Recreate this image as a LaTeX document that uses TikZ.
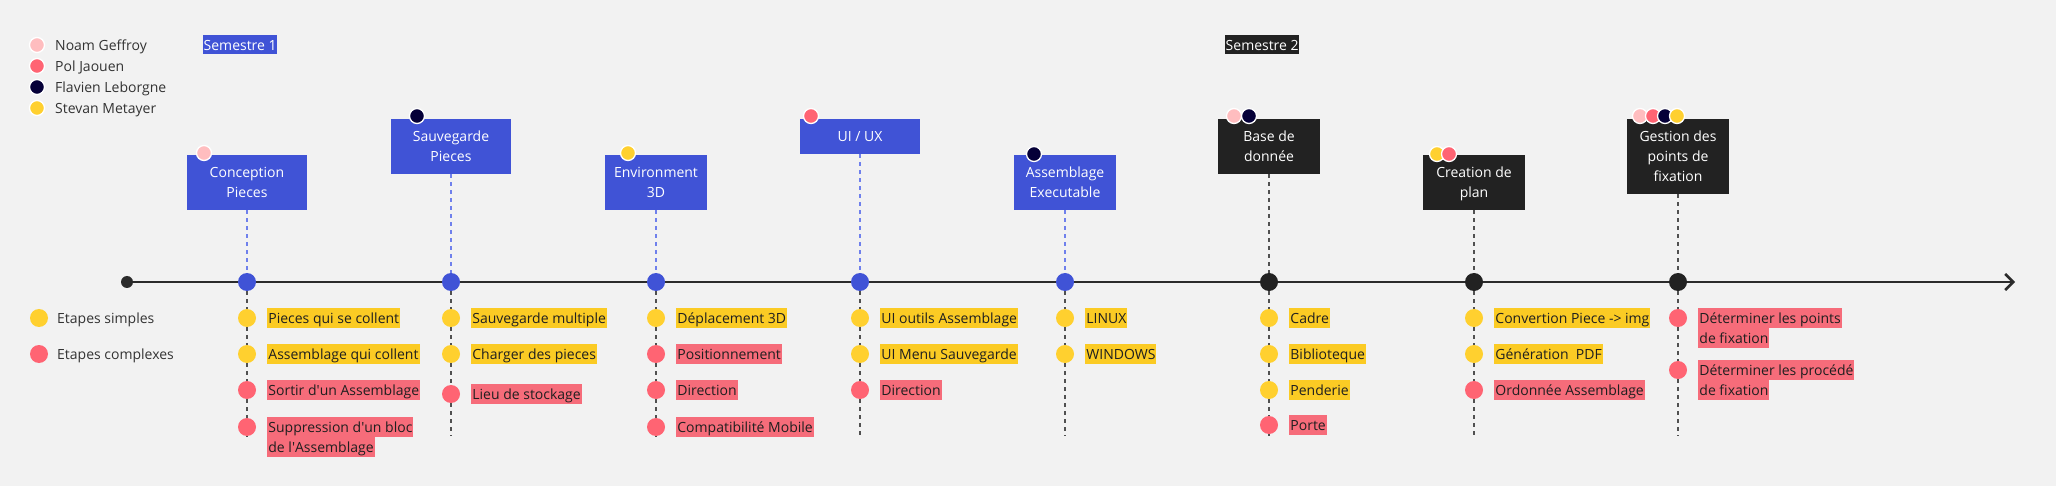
\documentclass[tikz,border=0pt]{standalone}
\usepackage{fontspec}
\setmainfont{Open Sans}
\usetikzlibrary{arrows.meta,positioning}

\definecolor{canvas}{HTML}{F2F2F2}
\definecolor{phaseblue}{HTML}{4053D6}
\definecolor{phasedark}{HTML}{222222}
\definecolor{linkblue}{HTML}{6F80EC}
\definecolor{linkgray}{HTML}{505050}
\definecolor{axisgray}{HTML}{2B2B2B}
\definecolor{noam}{HTML}{FFBDBF}
\definecolor{pol}{HTML}{FF6473}
\definecolor{flavien}{HTML}{050038}
\definecolor{stevan}{HTML}{FFD02F}
\definecolor{easyfill}{HTML}{FBCB24}
\definecolor{hardfill}{HTML}{F66C7A}
\definecolor{inkdark}{HTML}{1F1F1F}
\definecolor{inkgray}{HTML}{333333}

\newcommand{\fs}{\fontsize{14}{20}\selectfont}
\newcommand{\stack}[1]{\begin{tabular}[t]{@{}c@{}}#1\end{tabular}}

\begin{document}
\begin{tikzpicture}[
    x=1pt, y=-1pt,
    >={Straight Barb[length=8pt,width=16pt]},
    axis/.style={->, line width=2.6pt, draw=axisgray},
    link/.style={dash pattern=on 4pt off 4pt, line width=1.4pt, draw=linkgray},
    bluelink/.style={link, draw=linkblue},
    phase/.style={minimum width=102pt, inner sep=0pt, font=\fs, text=white,
      text height=23pt, text depth=32pt},
    phase1/.style={phase, fill=phaseblue},
    phase2/.style={phase, fill=phasedark},
    avatar/.style={circle, minimum size=15pt, inner sep=0pt, draw=white,
      line width=1.3pt},
    stepdot/.style={circle, minimum size=18pt, inner sep=0pt},
    mdot1/.style={stepdot, fill=phaseblue},
    mdot2/.style={stepdot, fill=phasedark},
    easydot/.style={stepdot, fill=stevan},
    harddot/.style={stepdot, fill=pol},
    tag/.style={font=\fs, text=inkdark, inner xsep=1pt, inner ysep=3pt,
      text height=12.5pt, text depth=1.5pt},
    easy/.style={tag, fill=easyfill},
    hard/.style={tag, fill=hardfill},
    legend/.style={font=\fs, text=inkgray, anchor=west, inner sep=0pt,
      text height=12.5pt, text depth=1.5pt},
    semester/.style={font=\fs, text=white, anchor=north west, inner xsep=0.5pt,
      inner ysep=2.5pt, text height=12.5pt, text depth=1.5pt}
  ]
  \fill[canvas] (0,0) rectangle (2056,486);
  \useasboundingbox (0,0) rectangle (2056,486);

  % Legend
  \node[avatar, fill=noam] (lg1) at (37,45) {};
  \node[legend] (lt1) at (55,45) {Noam Geffroy};
  \node[avatar, fill=pol] (lg2) at (37,66) {};
  \node[legend] (lt2) at (55,66) {Pol Jaouen};
  \node[avatar, fill=flavien] (lg3) at (37,87) {};
  \node[legend] (lt3) at (55,87) {Flavien Leborgne};
  \node[avatar, fill=stevan] (lg4) at (37,108) {};
  \node[legend] (lt4) at (55,108) {Stevan Metayer};
  \node[easydot] (lgs) at (39,318) {};
  \node[legend] (lts) at (57,318) {Etapes simples};
  \node[harddot] (lgc) at (39,354) {};
  \node[legend] (ltc) at (57,354) {Etapes complexes};

  % Semestres
  \node[semester, fill=phaseblue] (s1) at (203,35) {Semestre 1};
  \node[semester, fill=phasedark] (s2) at (1225,35) {Semestre 2};

  % Timeline
  \node[circle, fill=axisgray, minimum size=12pt, inner sep=0pt] (t0) at (127,282) {};
  \coordinate (tend) at (2015,282);
  \node[mdot1] (cpm) at (247,282) {};
  \node[mdot1] (spm) at (451,282) {};
  \node[mdot1] (enm) at (656,282) {};
  \node[mdot1] (uxm) at (860,282) {};
  \node[mdot1] (aem) at (1065,282) {};
  \node[mdot2] (bdm) at (1269,282) {};
  \node[mdot2] (crm) at (1474,282) {};
  \node[mdot2] (gfm) at (1678,282) {};
  \draw[axis] (t0) -- (cpm) -- (spm) -- (enm) -- (uxm) -- (aem) -- (bdm)
    -- (crm) -- (gfm) -- (tend);

  % Phases
  \node[phase1, minimum width=120pt] (cp) at (247,182.5) {\stack{Conception\\Pieces}};
  \node[phase1, minimum width=120pt] (sp) at (451,146.5) {\stack{Sauvegarde\\Pieces}};
  \node[phase1] (en) at (656,182.5) {\stack{Environment\\3D}};
  \node[phase1, minimum width=120pt, text depth=12pt] (ux) at (860,136.5) {UI / UX};
  \node[phase1] (ae) at (1065,182.5) {\stack{Assemblage\\Executable}};
  \node[phase2] (bd) at (1269,146.5) {\stack{Base de\\donnée}};
  \node[phase2] (cr) at (1474,182.5) {\stack{Creation de\\plan}};
  \node[phase2, text depth=52pt] (gf) at (1678,156.5) {\stack{Gestion des\\points de\\fixation}};

  % Who works on what
  \node[avatar, fill=noam] (cpa) at (204,153) {};
  \node[avatar, fill=flavien] (spa) at (417,116) {};
  \node[avatar, fill=stevan] (ena) at (628,153) {};
  \node[avatar, fill=pol] (uxa) at (811,116) {};
  \node[avatar, fill=flavien] (aea) at (1034,154) {};
  \node[avatar, fill=noam] (bda1) at (1234,116) {};
  \node[avatar, fill=flavien] (bda2) at (1249,116) {};
  \node[avatar, fill=stevan] (cra1) at (1437,154) {};
  \node[avatar, fill=pol] (cra2) at (1449,154) {};
  \node[avatar, fill=noam] (gfa1) at (1640,116) {};
  \node[avatar, fill=pol] (gfa2) at (1653,116) {};
  \node[avatar, fill=flavien] (gfa3) at (1665,116) {};
  \node[avatar, fill=stevan] (gfa4) at (1677,116) {};

  % Conception Pieces
  \node[easydot] (cp1) at (247,318) {};
  \node[easy, right=11pt of cp1] (cp1t) {Pieces qui se collent};
  \node[easydot] (cp2) at (247,354) {};
  \node[easy, right=11pt of cp2] (cp2t) {Assemblage qui collent};
  \node[harddot] (cp3) at (247,390) {};
  \node[hard, right=11pt of cp3] (cp3t) {Sortir d\textquotesingle un Assemblage};
  \node[harddot] (cp4) at (247,427) {};
  \node[hard, right=11pt of cp4] (cp4t) {Suppression d\textquotesingle un bloc};
  \node[hard, anchor=north west] (cp4u) at (cp4t.south west) {de l\textquotesingle Assemblage};
  \coordinate (cpe) at (247,436);

  % Sauvegarde Pieces
  \node[easydot] (sp1) at (451,318) {};
  \node[easy, right=11pt of sp1] (sp1t) {Sauvegarde multiple};
  \node[easydot] (sp2) at (451,354) {};
  \node[easy, right=11pt of sp2] (sp2t) {Charger des pieces};
  \node[harddot] (sp3) at (451,394) {};
  \node[hard, right=11pt of sp3] (sp3t) {Lieu de stockage};
  \coordinate (spe) at (451,436);

  % Environment 3D
  \node[easydot] (en1) at (656,318) {};
  \node[easy, right=11pt of en1] (en1t) {Déplacement 3D};
  \node[harddot] (en2) at (656,354) {};
  \node[hard, right=11pt of en2] (en2t) {Positionnement};
  \node[harddot] (en3) at (656,390) {};
  \node[hard, right=11pt of en3] (en3t) {Direction};
  \node[harddot] (en4) at (656,427) {};
  \node[hard, right=11pt of en4] (en4t) {Compatibilité Mobile};
  \coordinate (ene) at (656,436);

  % UI / UX
  \node[easydot] (ux1) at (860,318) {};
  \node[easy, right=11pt of ux1] (ux1t) {UI outils Assemblage};
  \node[easydot] (ux2) at (860,354) {};
  \node[easy, right=11pt of ux2] (ux2t) {UI Menu Sauvegarde};
  \node[harddot] (ux3) at (860,390) {};
  \node[hard, right=11pt of ux3] (ux3t) {Direction};
  \coordinate (uxe) at (860,436);

  % Assemblage Executable
  \node[easydot] (ae1) at (1065,318) {};
  \node[easy, right=11pt of ae1] (ae1t) {LINUX};
  \node[easydot] (ae2) at (1065,354) {};
  \node[easy, right=11pt of ae2] (ae2t) {WINDOWS};
  \coordinate (aee) at (1065,436);

  % Base de donnee
  \node[easydot] (bd1) at (1269,318) {};
  \node[easy, right=11pt of bd1] (bd1t) {Cadre};
  \node[easydot] (bd2) at (1269,354) {};
  \node[easy, right=11pt of bd2] (bd2t) {Biblioteque};
  \node[easydot] (bd3) at (1269,390) {};
  \node[easy, right=11pt of bd3] (bd3t) {Penderie};
  \node[harddot] (bd4) at (1269,425) {};
  \node[hard, right=11pt of bd4] (bd4t) {Porte};
  \coordinate (bde) at (1269,436);

  % Creation de plan
  \node[easydot] (cr1) at (1474,318) {};
  \node[easy, right=11pt of cr1] (cr1t) {Convertion Piece -> img};
  \node[easydot] (cr2) at (1474,354) {};
  \node[easy, right=11pt of cr2] (cr2t) {Génération\ \ PDF};
  \node[harddot] (cr3) at (1474,390) {};
  \node[hard, right=11pt of cr3] (cr3t) {Ordonnée Assemblage};
  \coordinate (cre) at (1474,436);

  % Gestion des points de fixation
  \node[harddot] (gf1) at (1678,318) {};
  \node[hard, right=11pt of gf1] (gf1t) {Déterminer les points};
  \node[hard, anchor=north west] (gf1u) at (gf1t.south west) {de fixation};
  \node[harddot] (gf2) at (1678,370) {};
  \node[hard, right=11pt of gf2] (gf2t) {Déterminer les procédé};
  \node[hard, anchor=north west] (gf2u) at (gf2t.south west) {de fixation};
  \coordinate (gfe) at (1678,436);

  % Dashed links
  \draw[bluelink] (cp) -- (cpm);
  \draw[link] (cpm) -- (cp1) -- (cp2) -- (cp3) -- (cp4) -- (cpe);
  \draw[bluelink] (sp) -- (spm);
  \draw[link] (spm) -- (sp1) -- (sp2) -- (sp3) -- (spe);
  \draw[bluelink] (en) -- (enm);
  \draw[link] (enm) -- (en1) -- (en2) -- (en3) -- (en4) -- (ene);
  \draw[bluelink] (ux) -- (uxm);
  \draw[link] (uxm) -- (ux1) -- (ux2) -- (ux3) -- (uxe);
  \draw[bluelink] (ae) -- (aem);
  \draw[link] (aem) -- (ae1) -- (ae2) -- (aee);
  \draw[link] (bd) -- (bdm) -- (bd1) -- (bd2) -- (bd3) -- (bd4) -- (bde);
  \draw[link] (cr) -- (crm) -- (cr1) -- (cr2) -- (cr3) -- (cre);
  \draw[link] (gf) -- (gfm) -- (gf1) -- (gf2) -- (gfe);
\end{tikzpicture}
\end{document}
